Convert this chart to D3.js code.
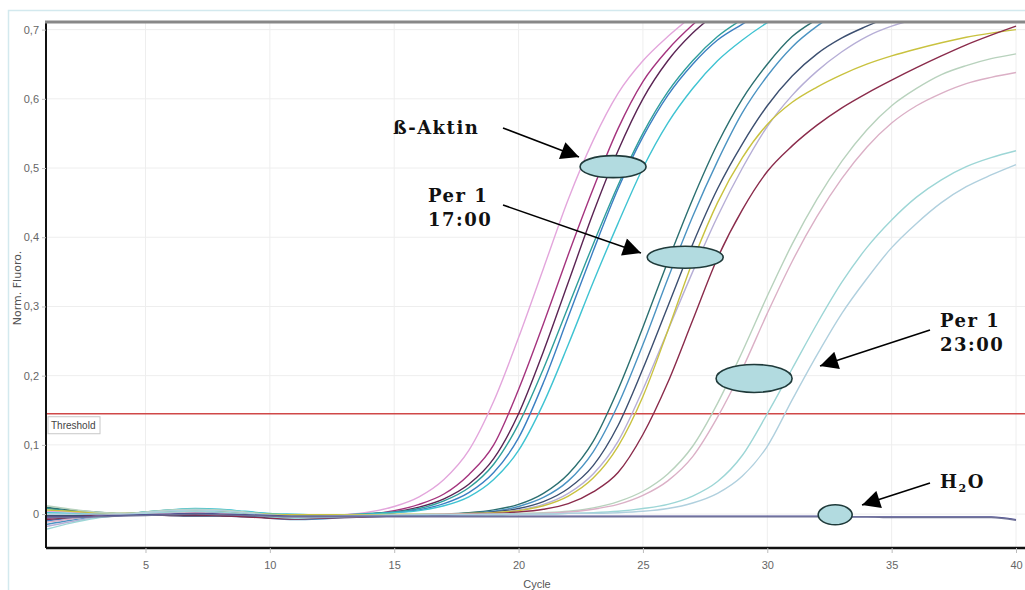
<html lang="en">

<head>
  <meta charset="UTF-8">
  <title>Amplification plot</title>
  <style>
    body { margin: 0; background: #fff; }
    .tick text { font-family: "Liberation Sans Narrow", "Arial Narrow", "Liberation Sans", sans-serif; font-size: 11px; fill: #666; }
    .note { font-family: "DejaVu Serif", Georgia, serif; font-weight: bold; font-size: 18px; letter-spacing: 1.5px; fill: #111; }
  </style>
</head>

<body>
  <script src="https://d3js.org/d3.v7.min.js"></script>
  <div id="chart"></div>

  <script>
    // cycle numbers on the x axis
    var cycles = [1, 2, 3, 4, 5, 6, 7, 8, 9, 10, 11, 12, 13, 14, 15, 16, 17, 18, 19, 20,
      21, 22, 23, 24, 25, 26, 27, 28, 29, 30, 31, 32, 33, 34, 35, 36, 37, 38, 39, 40];

    var xTicks = [5, 10, 15, 20, 25, 30, 35, 40];
    var yTicks = [0, 0.1, 0.2, 0.3, 0.4, 0.5, 0.6, 0.7];
    var threshold = 0.145;

    // norm. fluoro per cycle, beta-actin samples
    var aktin1 = [0.004, 0.003, 0.001, 0.000, 0.002, 0.005, 0.006, 0.005, 0.001, -0.003, -0.004, -0.003, -0.001, 0.003, 0.011, 0.025, 0.050, 0.092, 0.163, 0.255, 0.355, 0.455, 0.540, 0.608, 0.655, 0.690, 0.720];
    var aktin2 = [-0.006, -0.004, -0.002, -0.001, 0.001, 0.002, 0.002, 0.001, -0.002, -0.004, -0.006, -0.005, -0.003, 0.000, 0.005, 0.014, 0.029, 0.057, 0.100, 0.180, 0.275, 0.375, 0.470, 0.557, 0.625, 0.671, 0.707, 0.737];
    var aktin3 = [-0.003, -0.003, -0.002, -0.001, -0.001, -0.002, -0.002, -0.002, -0.003, -0.003, -0.004, -0.004, -0.003, 0.000, 0.003, 0.010, 0.022, 0.043, 0.080, 0.145, 0.235, 0.335, 0.435, 0.525, 0.600, 0.655, 0.695, 0.725];
    var aktin4 = [0.008, 0.005, 0.002, 0.000, 0.003, 0.006, 0.007, 0.006, 0.003, 0.000, -0.002, -0.002, -0.001, 0.001, 0.003, 0.008, 0.019, 0.038, 0.072, 0.130, 0.210, 0.300, 0.390, 0.475, 0.550, 0.610, 0.655, 0.690, 0.715];
    var aktin5 = [-0.010, -0.006, -0.003, -0.001, 0.002, 0.003, 0.004, 0.003, 0.000, -0.005, -0.007, -0.006, -0.004, -0.001, 0.002, 0.006, 0.015, 0.031, 0.060, 0.110, 0.190, 0.285, 0.380, 0.470, 0.545, 0.605, 0.650, 0.685, 0.708, 0.730];
    var aktin6 = [0.002, 0.001, 0.000, 0.000, 0.003, 0.006, 0.008, 0.007, 0.004, 0.001, 0.000, -0.001, -0.001, 0.000, 0.002, 0.005, 0.012, 0.025, 0.050, 0.092, 0.160, 0.245, 0.335, 0.420, 0.500, 0.565, 0.615, 0.655, 0.685, 0.710, 0.730];

    // per 1, 17:00
    var per17a = [0.010, 0.006, 0.003, 0.001, 0.002, 0.004, 0.005, 0.004, 0.001, -0.003, -0.005, -0.005, -0.004, -0.003, -0.002, -0.001, 0.000, 0.002, 0.006, 0.014, 0.030, 0.058, 0.105, 0.180, 0.270, 0.365, 0.455, 0.535, 0.600, 0.650, 0.690, 0.715, 0.735];
    var per17b = [-0.015, -0.009, -0.004, -0.001, 0.001, 0.003, 0.003, 0.002, -0.002, -0.006, -0.008, -0.007, -0.005, -0.004, -0.003, -0.002, -0.001, 0.001, 0.004, 0.011, 0.024, 0.048, 0.090, 0.158, 0.245, 0.340, 0.430, 0.510, 0.580, 0.633, 0.675, 0.705, 0.728];
    var per17c = [-0.002, -0.002, -0.001, 0.000, -0.001, -0.002, -0.003, -0.003, -0.004, -0.005, -0.006, -0.005, -0.004, -0.003, -0.002, -0.002, -0.001, 0.001, 0.003, 0.008, 0.018, 0.037, 0.070, 0.128, 0.210, 0.300, 0.390, 0.470, 0.535, 0.590, 0.633, 0.665, 0.688, 0.705, 0.720];
    var per17d = [-0.018, -0.011, -0.005, -0.002, 0.000, 0.001, 0.001, 0.001, -0.001, -0.002, -0.003, -0.003, -0.002, -0.002, -0.002, -0.001, -0.001, 0.000, 0.002, 0.006, 0.014, 0.030, 0.058, 0.105, 0.180, 0.265, 0.350, 0.430, 0.500, 0.560, 0.605, 0.640, 0.668, 0.690, 0.705, 0.715];
    var per17e = [0.006, 0.004, 0.002, 0.001, 0.002, 0.005, 0.006, 0.005, 0.002, 0.000, -0.001, -0.001, -0.001, -0.001, 0.000, 0.000, 0.000, 0.001, 0.002, 0.005, 0.012, 0.026, 0.052, 0.098, 0.170, 0.265, 0.365, 0.450, 0.515, 0.563, 0.595, 0.617, 0.635, 0.650, 0.662, 0.672, 0.681, 0.689, 0.695, 0.700];
    var per17f = [-0.008, -0.005, -0.002, -0.001, 0.000, -0.001, -0.001, -0.002, -0.004, -0.006, -0.007, -0.006, -0.005, -0.004, -0.003, -0.002, -0.001, 0.000, 0.001, 0.003, 0.007, 0.015, 0.032, 0.060, 0.115, 0.190, 0.280, 0.370, 0.440, 0.495, 0.532, 0.562, 0.587, 0.608, 0.627, 0.645, 0.662, 0.678, 0.692, 0.705];

    // per 1, 23:00
    var per23a = [0.012, 0.007, 0.003, 0.001, 0.003, 0.006, 0.007, 0.006, 0.003, -0.001, -0.003, -0.003, -0.002, -0.002, -0.001, 0.000, 0.000, 0.000, 0.000, 0.001, 0.002, 0.004, 0.009, 0.018, 0.033, 0.058, 0.098, 0.160, 0.235, 0.315, 0.390, 0.455, 0.510, 0.555, 0.590, 0.615, 0.635, 0.648, 0.658, 0.665];
    var per23b = [-0.012, -0.007, -0.003, -0.001, 0.001, 0.002, 0.002, 0.001, -0.001, -0.003, -0.005, -0.004, -0.003, -0.003, -0.002, -0.001, 0.000, 0.000, 0.000, 0.000, 0.001, 0.003, 0.007, 0.014, 0.027, 0.048, 0.083, 0.140, 0.210, 0.290, 0.365, 0.430, 0.485, 0.530, 0.565, 0.590, 0.608, 0.622, 0.631, 0.638];
    var per23c = [-0.022, -0.013, -0.006, -0.002, 0.001, 0.003, 0.004, 0.003, 0.000, -0.004, -0.006, -0.005, -0.004, -0.003, -0.002, -0.002, -0.001, -0.001, -0.001, 0.000, 0.000, 0.001, 0.002, 0.004, 0.008, 0.014, 0.026, 0.047, 0.085, 0.145, 0.210, 0.275, 0.335, 0.385, 0.425, 0.458, 0.483, 0.502, 0.515, 0.525];
    var per23d = [0.000, 0.000, 0.000, 0.000, 0.002, 0.005, 0.006, 0.005, 0.002, -0.002, -0.004, -0.004, -0.003, -0.002, -0.002, -0.001, -0.001, -0.001, 0.000, 0.000, 0.000, 0.001, 0.001, 0.002, 0.004, 0.008, 0.016, 0.030, 0.055, 0.098, 0.165, 0.230, 0.290, 0.340, 0.385, 0.420, 0.450, 0.473, 0.490, 0.505];

    // water controls
    var water1 = [-0.004, -0.004, -0.003, -0.002, -0.001, 0.000, 0.001, 0.000, -0.001, -0.002, -0.003, -0.003, -0.003, -0.003, -0.003, -0.003, -0.003, -0.003, -0.003, -0.003, -0.003, -0.003, -0.003, -0.003, -0.003, -0.003, -0.003, -0.003, -0.003, -0.003, -0.003, -0.003, -0.004, -0.004, -0.004, -0.004, -0.004, -0.004, -0.004, -0.008];
    var water2 = [-0.005, -0.005, -0.004, -0.003, -0.002, -0.001, 0.000, -0.001, -0.002, -0.003, -0.004, -0.004, -0.004, -0.004, -0.004, -0.004, -0.004, -0.004, -0.004, -0.004, -0.004, -0.004, -0.004, -0.004, -0.004, -0.004, -0.004, -0.004, -0.004, -0.004, -0.004, -0.004, -0.004, -0.004, -0.005, -0.005, -0.005, -0.005, -0.005, -0.009];

    var series = [aktin1, aktin2, aktin3, aktin4, aktin5, aktin6,
      per17a, per17b, per17c, per17d, per17e, per17f,
      per23a, per23b, per23c, per23d, water1, water2];
    var colours = ["#e3a6dc", "#a4337e", "#5b2454", "#2f9f9c", "#3b7fc2", "#3fc3d2",
      "#2b6f70", "#4b93c2", "#3c4f70", "#b6aed6", "#c9c23f", "#8a2b4b",
      "#b8d2bd", "#dbb0c6", "#9dd6d6", "#b0d0de", "#4a4a92", "#6e7096"];

    // annotations: text lines, ellipse centre (cycle, value), arrow start and tip
    var notes = [
      { lines: ["ß-Aktin"], cx: 23.8, cy: 0.502, rx: 33, ry: 11, tx: 393, ty: 134, ax: [503, 128], tip: [579, 157] },
      { lines: ["Per 1", "17:00"], cx: 26.7, cy: 0.371, rx: 38, ry: 11, tx: 428, ty: 202, ax: [503, 205], tip: [641, 253] },
      { lines: ["Per 1", "23:00"], cx: 29.47, cy: 0.196, rx: 38, ry: 14, tx: 940, ty: 327, ax: [930, 330], tip: [820, 366] },
      { lines: ["H2O"], cx: 32.73, cy: -0.001, rx: 17, ry: 10, tx: 940, ty: 488, ax: [930, 483], tip: [862, 505] }
    ];

    var margin = { top: 22, right: 8, bottom: 42, left: 46 },
      totalW = 1025, totalH = 590,
      width = totalW - margin.left - margin.right,
      height = totalH - margin.top - margin.bottom;

    var svg = d3.select("#chart")
      .append("svg")
      .attr("width", totalW)
      .attr("height", totalH);

    // light outer frame
    svg.append("path")
      .attr("d", "M8.5," + totalH + "V10.5H" + totalW)
      .attr("fill", "none")
      .attr("stroke", "#d3e9ee")
      .attr("stroke-width", 1.5);

    var g = svg.append("g")
      .attr("transform", "translate(" + margin.left + "," + margin.top + ")");

    var x = d3.scaleLinear().domain([1, 40]).range([0, width - 1]);
    var y = d3.scaleLinear().domain([-0.049, 0.711]).range([height, 0]);

    // grid
    g.append("g")
      .selectAll("line")
      .data(xTicks)
      .join("line")
      .attr("x1", d => x(d)).attr("x2", d => x(d))
      .attr("y1", 0).attr("y2", height)
      .attr("stroke", "#eeeeee");
    g.append("g")
      .selectAll("line")
      .data(yTicks)
      .join("line")
      .attr("x1", 0).attr("x2", totalW)
      .attr("y1", d => y(d)).attr("y2", d => y(d))
      .attr("stroke", "#eeeeee");

    g.append("clipPath").attr("id", "plot")
      .append("rect").attr("width", totalW).attr("height", height);

    // threshold line
    g.append("line")
      .attr("x1", 0).attr("x2", totalW)
      .attr("y1", y(threshold)).attr("y2", y(threshold))
      .attr("stroke", "#d04848")
      .attr("stroke-width", 1.4);

    var line = d3.line()
      .x((d, i) => x(cycles[i]))
      .y(d => y(d))
      .curve(d3.curveMonotoneX);

    g.append("g")
      .attr("clip-path", "url(#plot)")
      .selectAll("path")
      .data(series)
      .join("path")
      .attr("d", line)
      .attr("fill", "none")
      .attr("stroke", (d, i) => colours[i])
      .attr("stroke-width", 1.4);

    // threshold label box
    var thr = g.append("g").attr("transform", "translate(2," + (y(threshold) + 3) + ")");
    thr.append("rect")
      .attr("width", 52).attr("height", 17)
      .attr("fill", "#fff")
      .attr("stroke", "#c8c8c8");
    thr.append("text")
      .attr("x", 3).attr("y", 12)
      .style("font-family", "'Liberation Sans Narrow', 'Liberation Sans', sans-serif")
      .style("font-size", "10px")
      .attr("fill", "#444")
      .text("Threshold");

    // axes
    var xAxis = g.append("g")
      .attr("transform", "translate(0," + height + ")")
      .call(d3.axisBottom(x).tickValues(xTicks).tickSize(5).tickPadding(8).tickFormat(d3.format("d")));
    xAxis.select(".domain").attr("stroke", "#111").attr("stroke-width", 2.5);
    xAxis.selectAll(".tick line").attr("stroke", "#bbb");
    xAxis.select(".domain").attr("d", "M0,0H" + totalW);

    var yAxis = g.append("g")
      .call(d3.axisLeft(y).tickValues(yTicks).tickSize(4).tickPadding(3)
        .tickFormat(d => d === 0 ? "0" : d3.format(".1f")(d).replace(".", ",")));
    yAxis.select(".domain").attr("d", "M0," + height + "V0").attr("stroke", "#111").attr("stroke-width", 2);
    yAxis.selectAll(".tick line").attr("stroke", "#bbb");

    // top border
    g.append("line")
      .attr("x1", -1).attr("x2", totalW)
      .attr("y1", 0).attr("y2", 0)
      .attr("stroke", "#888")
      .attr("stroke-width", 3);

    // axis titles
    svg.append("text")
      .attr("transform", "translate(21,288) rotate(-90)")
      .attr("text-anchor", "middle")
      .style("font-family", "'DejaVu Sans', sans-serif")
      .style("font-size", "11px")
      .attr("fill", "#555")
      .text("Norm. Fluoro.");
    svg.append("text")
      .attr("x", 537).attr("y", 588)
      .attr("text-anchor", "middle")
      .style("font-family", "'Liberation Sans Narrow', 'Liberation Sans', sans-serif")
      .style("font-size", "11px")
      .attr("fill", "#555")
      .text("Cycle");

    // arrow head
    svg.append("defs").append("marker")
      .attr("id", "head")
      .attr("viewBox", "0 0 10 10")
      .attr("refX", 10).attr("refY", 5)
      .attr("markerWidth", 22).attr("markerHeight", 18)
      .attr("markerUnits", "userSpaceOnUse")
      .attr("orient", "auto")
      .append("path")
      .attr("d", "M0,0L10,5L0,10Z")
      .attr("fill", "#000");

    notes.forEach(function (n) {
      g.append("ellipse")
        .attr("cx", x(n.cx)).attr("cy", y(n.cy))
        .attr("rx", n.rx).attr("ry", n.ry)
        .attr("fill", "#b2dbe0")
        .attr("stroke", "#1f3a3a")
        .attr("stroke-width", 1.6);
      svg.append("line")
        .attr("x1", n.ax[0]).attr("y1", n.ax[1])
        .attr("x2", n.tip[0]).attr("y2", n.tip[1])
        .attr("stroke", "#000")
        .attr("stroke-width", 1.6)
        .attr("marker-end", "url(#head)");
      var t = svg.append("text")
        .attr("class", "note")
        .attr("x", n.tx).attr("y", n.ty);
      n.lines.forEach(function (l, i) {
        var ts = t.append("tspan").attr("x", n.tx).attr("dy", i === 0 ? 0 : 24);
        if (l === "H2O") {
          ts.text("H");
          t.append("tspan").attr("dy", 4).style("font-size", "11px").text("2");
          t.append("tspan").attr("dy", -4).text("O");
        } else {
          ts.text(l);
        }
      });
    });
  </script>
</body>

</html>
